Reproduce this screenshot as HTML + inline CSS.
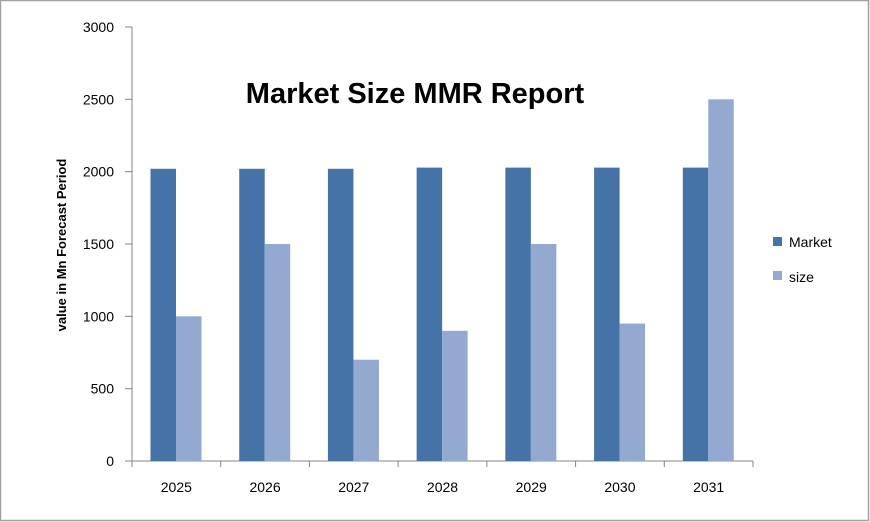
<!DOCTYPE html>
<html><head><meta charset="utf-8"><style>
html,body{margin:0;padding:0;background:#fff;}
svg{display:block;font-family:"Liberation Sans",sans-serif;}
</style></head><body>
<svg id="chart" width="870" height="522">
<rect x="0.5" y="0.5" width="868" height="520" fill="#fff" stroke="#a0a0a0" stroke-width="1.5"/>
<text x="415" y="103" font-size="29" font-weight="bold" text-anchor="middle" fill="#000">Market Size MMR Report</text>
<text transform="translate(66,245) rotate(-90)" font-size="13" font-weight="bold" text-anchor="middle" fill="#000">value in Mn  Forecast Period</text>
<g id="axes"></g><g id="bars"></g>
<g>
<rect x="773" y="237" width="9" height="9" fill="#4572a7"/>
<text x="789" y="247" font-size="14">Market</text>
<rect x="773" y="271" width="9" height="9" fill="#93a9cf"/>
<text x="789" y="282" font-size="14">size</text>
</g>
</svg>
<script>
const categories=["2025","2026","2027","2028","2029","2030","2031"];
const marketValues=[2020,2020,2020,2028,2028,2028,2028];
const sizeValues=[1000,1500,700,900,1500,950,2500];
const yTicks=[0,500,1000,1500,2000,2500,3000];
const NS="http://www.w3.org/2000/svg";
const x0=132,x1=753,yBase=461,yTop=27,yMax=3000;
const bw=(x1-x0)/categories.length;
const y=v=>yBase-(v/yMax)*(yBase-yTop);
function mk(tag,attrs,parent){const e=document.createElementNS(NS,tag);for(const k in attrs)e.setAttribute(k,attrs[k]);parent.appendChild(e);return e;}
const ax=document.getElementById('axes'),bars=document.getElementById('bars');
let l=mk('line',{x1:x0,y1:yTop,x2:x0,y2:yBase,stroke:'#868686'},ax);


l=mk('line',{x1:x0,y1:yBase,x2:x1,y2:yBase,stroke:'#868686'},ax);


yTicks.forEach(t=>{
 const tk=mk('line',{x1:x0-7,y1:y(t),x2:x0,y2:y(t),stroke:'#868686'},ax);
 
 
 const tx=mk('text',{x:x0-18,y:y(t)+5,'font-size':14,'text-anchor':'end'},ax);
 tx.textContent=t;
 
 
});
for(let i=0;i<=categories.length;i++){
 const tk=mk('line',{x1:x0+i*bw,y1:yBase,x2:x0+i*bw,y2:yBase+6,stroke:'#868686'},ax);
 
 
}
categories.forEach((c,i)=>{
 const cx=x0+i*bw;
 const b1=mk('rect',{x:cx+18.5,y:y(marketValues[i]),width:25.5,height:yBase-y(marketValues[i]),fill:'#4572a7'},bars);
 
 
 const b2=mk('rect',{x:cx+44,y:y(sizeValues[i]),width:25.5,height:yBase-y(sizeValues[i]),fill:'#93a9cf'},bars);
 
 
 const tx=mk('text',{x:cx+bw/2,y:492,'font-size':14,'text-anchor':'middle'},ax);
 tx.textContent=c;
 
 
});
</script>
</body></html>
